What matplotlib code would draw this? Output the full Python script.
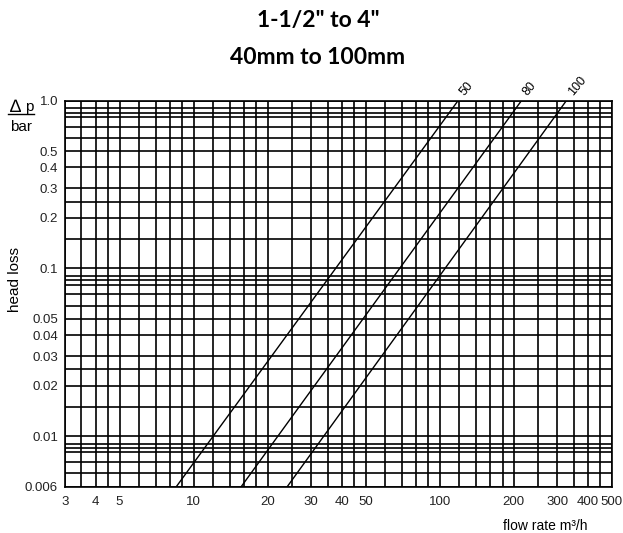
import matplotlib
matplotlib.use("Agg")
import matplotlib.pyplot as plt
from matplotlib.lines import Line2D

# --- Data ---
# grid lines of the log-log paper
x_grid = [3, 3.5, 4, 4.5, 5, 6, 7, 8, 9, 10, 12, 14, 16, 18, 20, 25, 30, 35, 40, 45,
          50, 60, 70, 80, 90, 100, 120, 140, 160, 180, 200, 250, 300, 350, 400, 450, 500]
y_grid = [0.005, 0.006, 0.007, 0.008, 0.0085, 0.009, 0.01, 0.015, 0.02, 0.025, 0.03,
          0.04, 0.05, 0.06, 0.07, 0.08, 0.085, 0.09, 0.1, 0.15, 0.2, 0.25, 0.3, 0.4,
          0.5, 0.6, 0.7, 0.8, 0.85, 0.9, 1.0]

# labelled ticks (the bottom line carries the label "0.006" in the original)
x_ticks = [3, 4, 5, 10, 20, 30, 40, 50, 100, 200, 300, 400, 500]
x_tick_labels = ["3", "4", "5", "10", "20", "30", "40", "50", "100", "200", "300", "400", "500"]
y_ticks = [0.005, 0.01, 0.02, 0.03, 0.04, 0.05, 0.1, 0.2, 0.3, 0.4, 0.5, 1.0]
y_tick_labels = ["0.006", "0.01", "0.02", "0.03", "0.04", "0.05", "0.1", "0.2", "0.3",
                 "0.4", "0.5", "1.0"]

# head loss lines per nominal size: flow at the bottom edge and at the top edge
sizes = ["50", "80", "100"]
flow_low = [8.5, 15.6, 24.0]
flow_high = [118.7, 214.8, 327.0]
dp_low = 0.005
dp_high = 1.0

plt.rcParams['font.family'] = ['Liberation Sans', 'DejaVu Sans']

fig = plt.figure(figsize=(6.23, 5.33), dpi=100)
ax = fig.add_axes([65 / 623, (533 - 486.7) / 533, 546.7 / 623, 386 / 533])

ax.set_xscale('log')
ax.set_yscale('log')
ax.set_xlim(3, 500)
ax.set_ylim(0.005, 1.0)

# grid
for xv in x_grid:
    ax.axvline(xv, color='black', lw=1.2, zorder=1)
for yv in y_grid:
    ax.axhline(yv, color='black', lw=1.2, zorder=1)

# head loss lines
for name, q0, q1 in zip(sizes, flow_low, flow_high):
    ax.plot([q0, q1], [dp_low, dp_high], color='black', lw=1.0, zorder=2, clip_on=True)
    ax.annotate(name, xy=(q1, dp_high), xytext=(3, 5), textcoords='offset points',
                rotation=50, rotation_mode='anchor', ha='left', va='center',
                fontsize=9, annotation_clip=False)

ax.set_xticks(x_ticks, x_tick_labels)
ax.set_yticks(y_ticks, y_tick_labels)
ax.minorticks_off()
ax.tick_params(length=0, labelsize=9.5, labelcolor='#222222')
ax.tick_params(axis='x', pad=7)
ax.tick_params(axis='y', pad=5)
for s in ax.spines.values():
    s.set_color('black')
    s.set_linewidth(1.2)

# titles
fig.text(318 / 623, 1 - 21 / 533, '1-1/2" to 4"', ha='center', va='center',
         fontsize=16.5, fontweight='bold', family='Lato')
fig.text(318 / 623, 1 - 58 / 533, '40mm to 100mm', ha='center', va='center',
         fontsize=16.5, fontweight='bold', family='Lato')

# axis captions
fig.text(15 / 623, 1 - 108 / 533, '\u2206', ha='center', va='center', fontsize=13)
fig.text(29 / 623, 1 - 107 / 533, 'p', ha='center', va='center', fontsize=11)
fig.add_artist(Line2D([8 / 623, 34 / 623], [1 - 114 / 533, 1 - 114 / 533],
                      color='black', lw=1.0))
fig.text(21 / 623, 1 - 127 / 533, 'bar', ha='center', va='center', fontsize=11)
fig.text(15 / 623, 1 - 279 / 533, 'head loss', ha='center', va='center',
         rotation=90, fontsize=11)
fig.text(503 / 623, 1 - 519 / 533, 'flow rate m\u00b3/h', ha='left', va='top', fontsize=10)

fig.savefig('out.png', dpi=100)
